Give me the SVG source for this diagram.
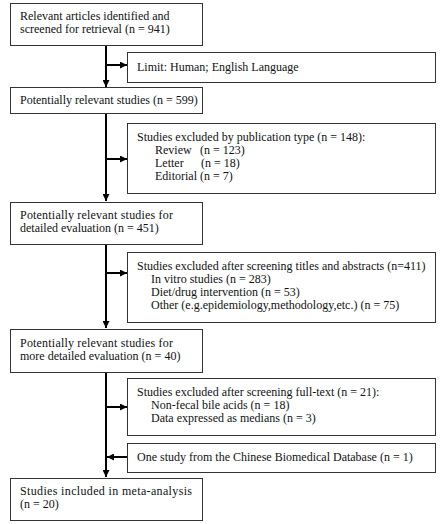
<svg xmlns="http://www.w3.org/2000/svg" width="445" height="524" viewBox="0 0 445 524">
<defs>
<marker id="ah" viewBox="0 0 10 10" refX="10" refY="5" markerWidth="3.5" markerHeight="3.5" orient="auto" markerUnits="strokeWidth">
<path d="M0,0 L10,5 L0,10 Z" fill="#000"/>
</marker>
<style>
.box{fill:#fff;stroke:#333;stroke-width:1}
.t{font-family:'Liberation Serif','DejaVu Serif',serif;font-size:12px;fill:#111}
.c{stroke:#000;stroke-width:2;fill:none}
</style>
</defs>
<rect width="445" height="524" fill="#fff"/>
<g id="connectors">
<path class="c" d="M106,45 V87" marker-end="url(#ah)"/>
<path class="c" d="M106,65 H127" marker-end="url(#ah)"/>
<path class="c" d="M106,113 V201" marker-end="url(#ah)"/>
<path class="c" d="M106,159 H127" marker-end="url(#ah)"/>
<path class="c" d="M106,244 V328" marker-end="url(#ah)"/>
<path class="c" d="M106,273 H127" marker-end="url(#ah)"/>
<path class="c" d="M106,373 V477" marker-end="url(#ah)"/>
<path class="c" d="M106,407 H127" marker-end="url(#ah)"/>
<path class="c" d="M127,457 H107" marker-end="url(#ah)"/>
</g>
<g id="n1">
<rect class="box" x="10.5" y="3.5" width="192" height="42"/>
<text class="t" x="20" y="20" font-family="Liberation Serif, serif">Relevant articles identified and</text>
<text class="t" x="20" y="33">screened for retrieval (n = 941)</text>
</g>
<g id="n2">
<rect class="box" x="127.5" y="52.5" width="308" height="30"/>
<text class="t" x="137" y="71">Limit: Human; English Language</text>
</g>
<g id="n3">
<rect class="box" x="10.5" y="87.5" width="192" height="26"/>
<text class="t" x="20" y="104">Potentially relevant studies (n = 599)</text>
</g>
<g id="n4">
<rect class="box" x="127.5" y="123.5" width="308" height="70"/>
<text class="t" x="137" y="141">Studies excluded by publication type (n = 148):</text>
<text class="t" x="155" y="154">Review</text><text class="t" x="200" y="154">(n = 123)</text>
<text class="t" x="155" y="167">Letter</text><text class="t" x="201" y="167">(n = 18)</text>
<text class="t" x="155" y="180">Editorial  (n = 7)</text>
</g>
<g id="n5">
<rect class="box" x="10.5" y="202.5" width="192" height="42"/>
<text class="t" x="20" y="219" textLength="153" lengthAdjust="spacing">Potentially relevant studies for</text>
<text class="t" x="20" y="232">detailed evaluation (n = 451)</text>
</g>
<g id="n6">
<rect class="box" x="127.5" y="252.5" width="308" height="70"/>
<text class="t" x="137" y="270">Studies excluded after screening titles and abstracts (n=411)</text>
<text class="t" x="151" y="283">In vitro studies   (n = 283)</text>
<text class="t" x="151" y="296">Diet/drug intervention    (n = 53)</text>
<text class="t" x="151" y="309">Other (e.g.epidemiology,methodology,etc.)  (n = 75)</text>
</g>
<g id="n7">
<rect class="box" x="10.5" y="329.5" width="192" height="43"/>
<text class="t" x="20" y="347" textLength="153" lengthAdjust="spacing">Potentially relevant studies for</text>
<text class="t" x="20" y="360">more detailed evaluation (n = 40)</text>
</g>
<g id="n8">
<rect class="box" x="127.5" y="378.5" width="308" height="57"/>
<text class="t" x="137" y="396">Studies excluded after screening full-text  (n = 21):</text>
<text class="t" x="151" y="409">Non-fecal bile acids (n = 18)</text>
<text class="t" x="151" y="422">Data expressed as medians  (n = 3)</text>
</g>
<g id="n9">
<rect class="box" x="127.5" y="443.5" width="308" height="29"/>
<text class="t" x="137" y="461">One study from the Chinese Biomedical Database (n = 1)</text>
</g>
<g id="n10">
<rect class="box" x="10.5" y="478.5" width="192" height="42"/>
<text class="t" x="20" y="495" textLength="172" lengthAdjust="spacing">Studies included in meta-analysis</text>
<text class="t" x="20" y="508">(n = 20)</text>
</g>
</svg>
